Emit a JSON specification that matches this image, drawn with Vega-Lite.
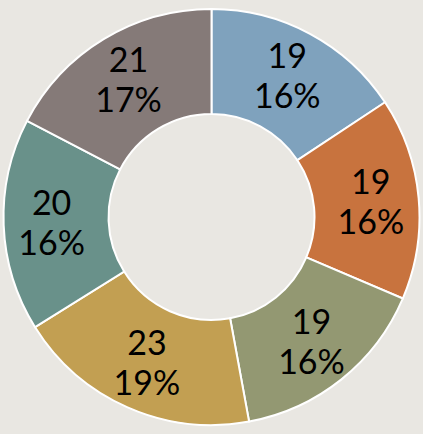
{
  "$schema": "https://vega.github.io/schema/vega-lite/v6.json",
  "width": 423,
  "height": 434,
  "autosize": {"type": "fit", "contains": "padding"},
  "background": "#e9e7e2",
  "view": {"stroke": null},
  "data": {
    "values": [
      {"i": 1, "cat": "A", "value": 19, "label": "19\n16%"},
      {"i": 2, "cat": "B", "value": 19, "label": "19\n16%"},
      {"i": 3, "cat": "C", "value": 19, "label": "19\n16%"},
      {"i": 4, "cat": "D", "value": 23, "label": "23\n19%"},
      {"i": 5, "cat": "E", "value": 20, "label": "20\n16%"},
      {"i": 6, "cat": "F", "value": 21, "label": "21\n17%"}
    ]
  },
  "encoding": {
    "theta": {"field": "value", "type": "quantitative", "stack": true},
    "order": {"field": "i", "type": "quantitative"},
    "color": {
      "field": "cat",
      "type": "nominal",
      "scale": {
        "domain": ["A", "B", "C", "D", "E", "F"],
        "range": ["#7fa2bd", "#c8733e", "#939872", "#c29f52", "#69918a", "#857a78"]
      },
      "legend": null
    }
  },
  "layer": [
    {
      "mark": {"type": "arc", "outerRadius": 208, "innerRadius": 103, "stroke": "white", "strokeWidth": 2}
    },
    {
      "mark": {
        "type": "text",
        "radius": 160,
        "font": "Lato",
        "fontSize": 34,
        "lineHeight": 40,
        "lineBreak": "\n",
        "dy": -18,
        "color": "black",
        "align": "center",
        "baseline": "middle"
      },
      "encoding": {
        "text": {"field": "label"},
        "color": {"value": "black"}
      }
    }
  ]
}
